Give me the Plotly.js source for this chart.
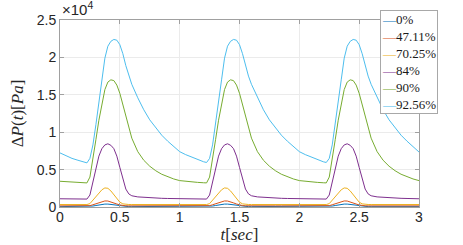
<!DOCTYPE html>
<html>
<head>
<meta charset="utf-8">
<script src="https://cdn.plot.ly/plotly-3.0.1.min.js"></script>
<style>html,body{margin:0;padding:0;background:#fff;}#chart{width:463px;height:245px;}</style>
</head>
<body>
<div id="chart"></div>
<script>
// time (s)
var t = [0,0.05,0.1,0.15,0.2,0.225,0.25,0.275,0.3,0.325,0.35,0.375,0.4,0.425,0.45,0.475,0.5,0.525,0.55,0.575,0.6,0.65,0.7,0.75,0.8,0.85,0.9,0.95,
         1,1.05,1.1,1.15,1.2,1.225,1.25,1.275,1.3,1.325,1.35,1.375,1.4,1.425,1.45,1.475,1.5,1.525,1.55,1.575,1.6,1.65,1.7,1.75,1.8,1.85,1.9,1.95,
         2,2.05,2.1,2.15,2.2,2.225,2.25,2.275,2.3,2.325,2.35,2.375,2.4,2.425,2.45,2.475,2.5,2.525,2.55,2.575,2.6,2.65,2.7,2.75,2.8,2.85,2.9,2.95,
         3];

// series values (Pa)
var p0 = [50,50,50,50,50,50,70,130,200,280,350,390,390,340,260,180,110,70,55,50,50,50,50,50,50,50,50,50,
          50,50,50,50,50,50,70,130,200,280,350,390,390,340,260,180,110,70,55,50,50,50,50,50,50,50,50,50,
          50,50,50,50,50,50,70,130,200,280,350,390,390,340,260,180,110,70,55,50,50,50,50,50,50,50,50,50,
          50];
var p4711 = [150,150,150,150,150,150,180,300,450,600,730,810,800,700,550,400,270,190,160,150,150,150,150,150,150,150,150,150,
             150,150,150,150,150,150,180,300,450,600,730,810,800,700,550,400,270,190,160,150,150,150,150,150,150,150,150,150,
             150,150,150,150,150,150,180,300,450,600,730,810,800,700,550,400,270,190,160,150,150,150,150,150,150,150,150,150,
             150];
var p7025 = [330,330,330,330,330,330,450,900,1400,1900,2300,2550,2500,2150,1600,1100,650,420,350,335,330,330,330,330,330,330,330,330,
             330,330,330,330,330,330,450,900,1400,1900,2300,2550,2500,2150,1600,1100,650,420,350,335,330,330,330,330,330,330,330,330,
             330,330,330,330,330,330,450,900,1400,1900,2300,2550,2500,2150,1600,1100,650,420,350,335,330,330,330,330,330,330,330,330,
             330];
var p84 = [1100,1090,1080,1070,1060,1060,1600,3300,5200,6800,7800,8300,8450,8250,7800,6800,5300,3700,2400,1750,1500,1350,1280,1230,1190,1160,1140,1120,
           1100,1090,1080,1070,1060,1060,1600,3300,5200,6800,7800,8300,8450,8250,7800,6800,5300,3700,2400,1750,1500,1350,1280,1230,1190,1160,1140,1120,
           1100,1090,1080,1070,1060,1060,1600,3300,5200,6800,7800,8300,8450,8250,7800,6800,5300,3700,2400,1750,1500,1350,1280,1230,1190,1160,1140,1120,
           1100];
var p90 = [3440,3380,3330,3280,3240,3220,4000,6300,9000,11600,13800,15700,16700,17000,16900,16300,15200,13700,12000,10500,9200,7400,6250,5450,4850,4380,4020,3750,
           3530,3420,3350,3290,3240,3220,4000,6300,9000,11600,13800,15700,16700,17000,16900,16300,15200,13700,12000,10500,9200,7400,6250,5450,4850,4380,4020,3750,
           3530,3420,3350,3290,3240,3220,4000,6300,9000,11600,13800,15700,16700,17000,16900,16300,15200,13700,12000,10500,9200,7400,6250,5450,4850,4380,4020,3750,
           3530];
var p9256 = [7230,6850,6500,6250,6000,5900,6500,8300,11000,13900,17000,19900,21500,22150,22400,22300,21700,20500,18900,17500,16400,14600,13000,11650,10550,9600,8800,8050,
             7400,7000,6650,6350,6050,5950,6500,8300,11000,13900,17000,19900,21500,22150,22400,22300,21700,20500,18900,17500,16400,14600,13000,11650,10550,9600,8800,8050,
             7400,7000,6650,6350,6050,5950,6500,8300,11000,13900,17000,19900,21500,22150,22400,22300,21700,20500,18900,17500,16400,14600,13000,11650,10550,9600,8800,8050,
             7350];

var names = ['0%','47.11%','70.25%','84%','90%','92.56%'];
var series = [p0, p4711, p7025, p84, p90, p9256];
var colors = ['#0072BD','#D95319','#EDB120','#7E2F8E','#77AC30','#4DBEEE'];

var yTickVals = [0,5000,10000,15000,20000,25000];
var yTickText = ['0','0.5','1','1.5','2','2.5'];
var xTickVals = [0,0.5,1,1.5,2,2.5,3];
var xTickText = ['0','0.5','1','1.5','2','2.5','3'];

var traces = series.map(function(s,i){
  return {x:t, y:s, type:'scatter', mode:'lines', name:names[i],
          line:{color:colors[i], width:1}, showlegend:false, hoverinfo:'skip'};
});

var legendText = names.map(function(n,i){
  return '<span style="color:'+colors[i]+'">\u2014</span>'+n;
}).join('<br>');

var axisCommon = {
  showline:true, linecolor:'#a0a0a0', linewidth:1, mirror:'ticks',
  ticks:'inside', ticklen:4, tickcolor:'#a0a0a0',
  showgrid:true, gridcolor:'#ebebeb', gridwidth:1, zeroline:false,
  tickfont:{family:'Liberation Sans, Arial, sans-serif', size:14, color:'#262626'}
};

var layout = {
  width:463, height:245,
  margin:{l:60, r:44, t:20, b:38},
  paper_bgcolor:'#fff', plot_bgcolor:'#fff',
  showlegend:false,
  xaxis:Object.assign({}, axisCommon, {
    range:[0,3], tickvals:xTickVals, ticktext:xTickText, ticklabelstandoff:-3,
    title:{text:'<i>t</i>[<i>sec</i>]', font:{family:'Liberation Serif, serif', size:17, color:'#262626'}, standoff:0}
  }),
  yaxis:Object.assign({}, axisCommon, {
    range:[0,25000], tickvals:yTickVals, ticktext:yTickText,
    title:{text:'\u0394<i>P</i>(<i>t</i>)[<i>Pa</i>]', font:{family:'Liberation Serif, serif', size:17, color:'#262626'}, standoff:8}
  }),
  annotations:[
    {xref:'paper', yref:'paper', x:0, y:1.0, xanchor:'left', yanchor:'bottom', showarrow:false,
     text:'\u00d710<sup>4</sup>', font:{family:'Liberation Sans, Arial, sans-serif', size:15, color:'#262626'}},
    {xref:'paper', yref:'paper', x:1.053, y:1.053, xanchor:'right', yanchor:'top', showarrow:false,
     align:'left', text:legendText, bgcolor:'#fff', bordercolor:'#a8a8a8', borderwidth:1, borderpad:1,
     font:{family:'Liberation Serif, serif', size:13, color:'#1a1a1a'}}
  ]
};

Plotly.newPlot('chart', traces, layout, {displayModeBar:false, staticPlot:true});
</script>
</body>
</html>
